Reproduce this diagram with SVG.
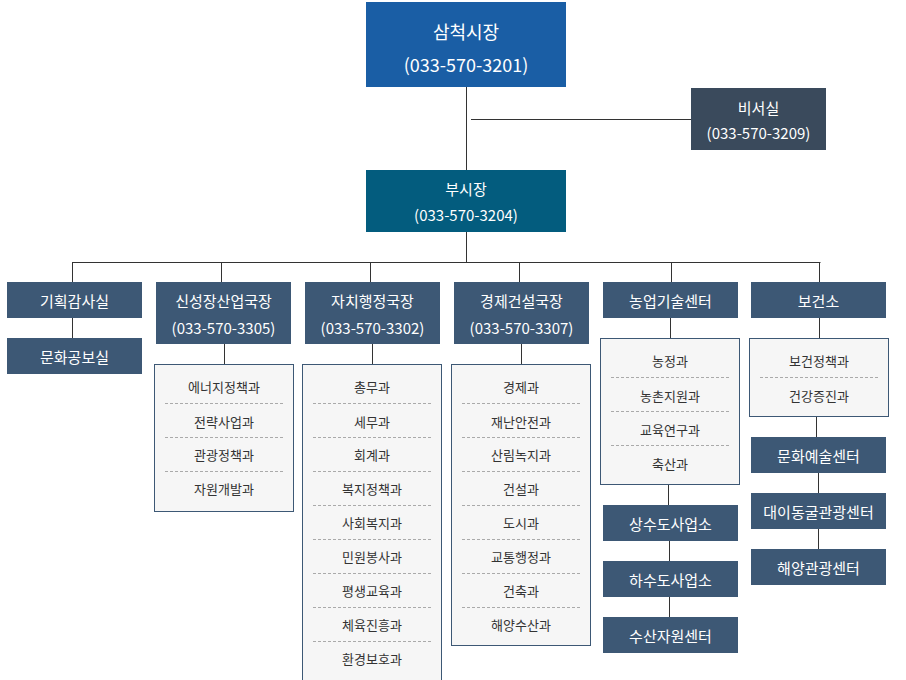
<svg xmlns="http://www.w3.org/2000/svg" width="906" height="680" viewBox="0 0 906 680">
<style>
text{font-family:"Noto Sans CJK KR","Liberation Sans",sans-serif;text-anchor:middle;dominant-baseline:central}
.h{fill:#3d5875}
.ht{fill:#fff;font-size:15px}
.list{fill:#f6f6f6;stroke:#3d5875;stroke-width:1}
.it{fill:#333;font-size:13px}
.dash{stroke:#aaa;stroke-width:1;stroke-dasharray:3 2}
.c{stroke:#333;stroke-width:1;fill:none}
</style>
<g id="connectors">
<path class="c" d="M466.5 87V262M471 119.5H691M72.5 262.5H820.5M72.5 262V282M221.5 262V282M370.5 262V282M519.5 262V282M671.5 262V282M819.5 262V282M72.5 318V338M224.5 344V364M372.5 344V364M521.5 344V364M670.5 318V338M819.5 318V338M668.5 484V505M669.5 541V561M669.5 597V617M816.5 416V437M818.5 473V493M818.5 529V549"/>
</g>
<g id="mayor"><rect x="366" y="2" width="200" height="85" fill="#1a5ea5"/><text x="466" y="31" fill="#fff" font-size="18">삼척시장</text><text x="466" y="64" fill="#fff" font-size="18">(033-570-3201)</text></g>
<g id="secretary"><rect x="691" y="88" width="135" height="62" fill="#3a4a5c"/><text x="758.5" y="107" class="ht">비서실</text><text x="758.5" y="132" class="ht">(033-570-3209)</text></g>
<g id="vice-mayor"><rect x="366" y="170" width="200" height="62" fill="#035c7e"/><text x="466" y="188" class="ht">부시장</text><text x="466" y="214" class="ht">(033-570-3204)</text></g>
<g id="audit"><rect x="7" y="282" width="135" height="36" class="h"/><text x="74.5" y="300" class="ht">기획감사실</text></g>
<g id="pr"><rect x="7" y="338" width="135" height="36" class="h"/><text x="74.5" y="356" class="ht">문화공보실</text></g>
<g id="growth"><rect x="156" y="282" width="135" height="62" class="h"/><text x="223.5" y="300" class="ht">신성장산업국장</text><text x="223.5" y="327" class="ht">(033-570-3305)</text></g>
<g id="growth-list"><rect x="154.5" y="364.5" width="139" height="147" class="list"/>
<text x="224" y="386" class="it">에너지정책과</text><text x="224" y="421" class="it">전략사업과</text><text x="224" y="454" class="it">관광정책과</text><text x="224" y="488" class="it">자원개발과</text>
<path class="dash" d="M165 403.5H283M165 437.5H283M165 471.5H283"/></g>
<g id="admin"><rect x="305" y="282" width="135" height="62" class="h"/><text x="372.5" y="300" class="ht">자치행정국장</text><text x="372.5" y="327" class="ht">(033-570-3302)</text></g>
<g id="admin-list"><rect x="302.5" y="364.5" width="139" height="330" class="list"/>
<text x="372" y="386" class="it">총무과</text><text x="372" y="421" class="it">세무과</text><text x="372" y="454" class="it">회계과</text><text x="372" y="488" class="it">복지정책과</text><text x="372" y="522" class="it">사회복지과</text><text x="372" y="556" class="it">민원봉사과</text><text x="372" y="590" class="it">평생교육과</text><text x="372" y="624" class="it">체육진흥과</text><text x="372" y="658" class="it">환경보호과</text>
<path class="dash" d="M313 403.5H431M313 437.5H431M313 471.5H431M313 505.5H431M313 539.5H431M313 573.5H431M313 607.5H431M313 641.5H431"/></g>
<g id="economy"><rect x="454" y="282" width="135" height="62" class="h"/><text x="521.5" y="300" class="ht">경제건설국장</text><text x="521.5" y="327" class="ht">(033-570-3307)</text></g>
<g id="economy-list"><rect x="451.5" y="364.5" width="139" height="281" class="list"/>
<text x="521" y="386" class="it">경제과</text><text x="521" y="421" class="it">재난안전과</text><text x="521" y="454" class="it">산림녹지과</text><text x="521" y="488" class="it">건설과</text><text x="521" y="522" class="it">도시과</text><text x="521" y="556" class="it">교통행정과</text><text x="521" y="590" class="it">건축과</text><text x="521" y="624" class="it">해양수산과</text>
<path class="dash" d="M462 403.5H580M462 437.5H580M462 471.5H580M462 505.5H580M462 539.5H580M462 573.5H580M462 607.5H580"/></g>
<g id="agri"><rect x="603" y="282" width="135" height="36" class="h"/><text x="670.5" y="300" class="ht">농업기술센터</text></g>
<g id="agri-list"><rect x="600.5" y="338.5" width="139" height="146" class="list"/>
<text x="670" y="360" class="it">농정과</text><text x="670" y="395" class="it">농촌지원과</text><text x="670" y="429" class="it">교육연구과</text><text x="670" y="463" class="it">축산과</text>
<path class="dash" d="M611 377.5H729M611 411.5H729M611 445.5H729"/></g>
<g id="water"><rect x="603" y="505" width="135" height="36" class="h"/><text x="670.5" y="523" class="ht">상수도사업소</text></g>
<g id="sewage"><rect x="603" y="561" width="135" height="36" class="h"/><text x="670.5" y="579" class="ht">하수도사업소</text></g>
<g id="fishery"><rect x="603" y="617" width="135" height="36" class="h"/><text x="670.5" y="635" class="ht">수산자원센터</text></g>
<g id="health"><rect x="751" y="282" width="135" height="36" class="h"/><text x="818.5" y="300" class="ht">보건소</text></g>
<g id="health-list"><rect x="749.5" y="338.5" width="139" height="78" class="list"/>
<text x="819" y="360" class="it">보건정책과</text><text x="819" y="395" class="it">건강증진과</text>
<path class="dash" d="M760 377.5H878"/></g>
<g id="culture"><rect x="751" y="437" width="135" height="36" class="h"/><text x="818.5" y="455" class="ht">문화예술센터</text></g>
<g id="cave"><rect x="751" y="493" width="135" height="36" class="h"/><text x="818.5" y="511" class="ht">대이동굴관광센터</text></g>
<g id="marine"><rect x="751" y="549" width="135" height="36" class="h"/><text x="818.5" y="567" class="ht">해양관광센터</text></g>
</svg>
